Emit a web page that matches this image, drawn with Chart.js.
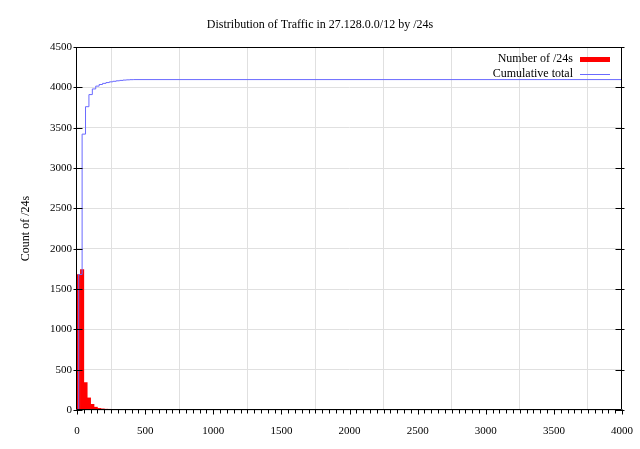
<!DOCTYPE html>
<html>
<head>
<meta charset="utf-8">
<script src="https://cdn.jsdelivr.net/npm/chart.js@4"></script>
<style>
  html, body { margin: 0; padding: 0; background: #fff; }
  #wrap { width: 640px; height: 449px; }
</style>
</head>
<body>
<div id="wrap"><canvas id="chart" width="640" height="449"></canvas></div>
<script>
// Histogram of /24s, bins of 25 (centre of each bin)
const binCentres = [12.5, 37.5, 62.5, 87.5, 112.5, 137.5, 162.5, 187.5, 212.5,
                    237.5, 262.5, 287.5, 312.5, 337.5, 362.5, 387.5, 412.5];
const binCounts = [1680, 1740, 340, 150, 70, 35, 20, 14, 10, 9, 7, 6, 5, 4, 3, 2, 1];

// Cumulative total (drawn as steps)
const cumX = [0, 12.5, 37.5, 62.5, 87.5, 112.5, 137.5, 162.5, 187.5, 212.5,
              237.5, 262.5, 287.5, 312.5, 337.5, 362.5, 387.5, 412.5, 4000];
const cumY = [0, 1680, 3420, 3760, 3910, 3980, 4015, 4035, 4049, 4059,
              4068, 4075, 4081, 4086, 4090, 4093, 4095, 4096, 4096];

// Axis ranges / ticks
const xMin = 0, xMax = 4000, xStep = 500, xMinorStep = 50;
const yMin = 0, yMax = 4500, yStep = 500;

const serif = '"Liberation Serif", "DejaVu Serif", serif';

// Border box, gnuplot-style tick marks and the legend
const framePlugin = {
  id: 'frame',
  afterDatasetsDraw(chart) {
    const { ctx, chartArea: a, scales: { x, y } } = chart;
    const L = Math.round(a.left) - 0.5, R = Math.round(a.right) - 0.5;
    const T = Math.round(a.top) + 0.5, B = Math.round(a.bottom) - 0.5;
    ctx.save();
    ctx.strokeStyle = '#000';
    ctx.lineWidth = 1;
    ctx.beginPath();
    ctx.rect(L, T, R - L, B - T);
    // y ticks, left and mirrored right
    y.ticks.forEach(t => {
      const py = Math.round(y.getPixelForValue(t.value)) + 0.5;
      ctx.moveTo(L - 3, py); ctx.lineTo(L + 6, py);
      ctx.moveTo(R - 6, py); ctx.lineTo(R + 3, py);
    });
    // x major + minor ticks along the bottom
    for (let v = xMin; v <= xMax; v += xMinorStep) {
      const px = Math.round(x.getPixelForValue(v)) + 0.5;
      const len = (v % xStep === 0) ? 5 : 4;
      ctx.moveTo(px, B); ctx.lineTo(px, B + len);
    }
    ctx.stroke();

    // legend: text to the left of the sample
    ctx.font = '12px ' + serif;
    ctx.fillStyle = '#000';
    ctx.textAlign = 'right';
    ctx.textBaseline = 'middle';
    chart.data.datasets.forEach((ds, i) => {
      const ly = a.top + 12 + i * 15;
      ctx.fillText(ds.label, a.right - 49, ly);
      if (ds.type === 'bar') {
        ctx.fillStyle = ds.backgroundColor;
        ctx.fillRect(a.right - 42, ly - 2, 30, 5);
        ctx.fillStyle = '#000';
      } else {
        ctx.strokeStyle = ds.borderColor;
        ctx.beginPath();
        ctx.moveTo(a.right - 42, Math.round(ly) + 0.5);
        ctx.lineTo(a.right - 12, Math.round(ly) + 0.5);
        ctx.stroke();
      }
    });
    ctx.restore();
  }
};

const plain = v => String(v);

new Chart(document.getElementById('chart'), {
  type: 'bar',
  data: {
    datasets: [
      {
        type: 'bar',
        label: 'Number of /24s',
        data: binCentres.map((c, i) => ({ x: c, y: binCounts[i] })),
        backgroundColor: '#ff0000',
        borderWidth: 0,
        categoryPercentage: 1.0,
        barPercentage: 1.0,
        order: 2
      },
      {
        type: 'line',
        label: 'Cumulative total',
        data: cumX.map((c, i) => ({ x: c, y: cumY[i] })),
        borderColor: '#6a6aff',
        borderWidth: 1,
        pointRadius: 0,
        stepped: 'before',
        fill: false,
        order: 1
      }
    ]
  },
  options: {
    responsive: false,
    animation: false,
    layout: { padding: 0 },
    plugins: {
      legend: { display: false },
      tooltip: { enabled: false },
      title: {
        display: true,
        text: 'Distribution of Traffic in 27.128.0.0/12 by /24s',
        color: '#000',
        font: { family: serif, size: 12, weight: 'normal' },
        padding: { top: 18, bottom: 14.6 }
      }
    },
    scales: {
      x: {
        type: 'linear',
        min: xMin, max: xMax,
        offset: false,
        grid: { color: '#e0e0e0', drawTicks: true, tickLength: 12, tickColor: 'rgba(0,0,0,0)' },
        border: { display: false },
        ticks: { stepSize: xStep, padding: 3, color: '#000', maxRotation: 0,
                 font: { family: serif, size: 11 }, callback: plain },
        afterFit: s => { s.height = 39; }
      },
      y: {
        min: yMin, max: yMax,
        grid: { color: '#e0e0e0', drawTicks: false },
        border: { display: false },
        ticks: { stepSize: yStep, padding: 5, color: '#000',
                 font: { family: serif, size: 11 }, callback: plain },
        title: { display: true, text: 'Count of /24s', color: '#000',
                 font: { family: serif, size: 12 }, padding: { top: 19, bottom: 0 } },
        afterFit: s => { s.width = 77; }
      },
      yr: {
        position: 'right',
        grid: { display: false },
        border: { display: false },
        ticks: { display: false },
        afterFit: s => { s.width = 18; }
      }
    }
  },
  plugins: [framePlugin]
});
</script>
</body>
</html>
